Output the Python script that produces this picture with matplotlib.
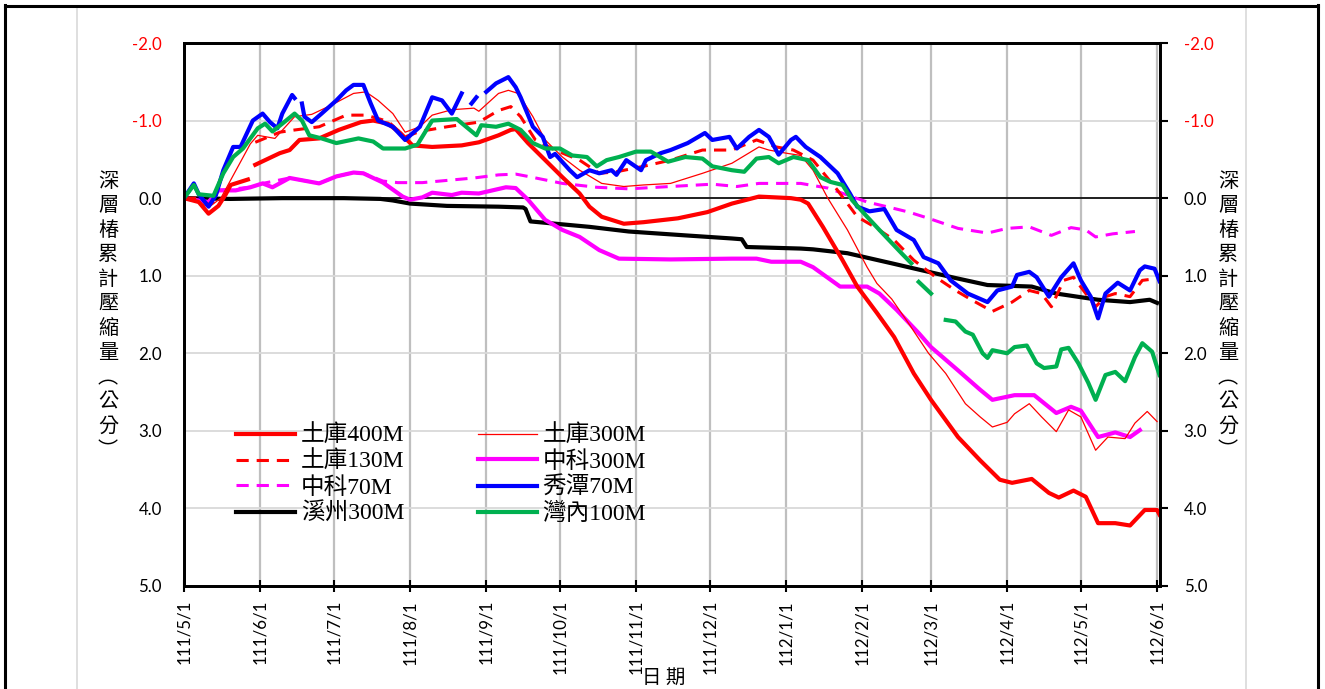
import numpy as np
import matplotlib
matplotlib.use("Agg")
import matplotlib.pyplot as plt
import matplotlib.dates as mdates
from matplotlib.lines import Line2D
from matplotlib.patches import Rectangle
import datetime as dt

nan = np.nan

# ---- 溪州300M ----
xz300_d = ["2022-05-01", "2022-05-20", "2022-06-10", "2022-07-05", "2022-07-20", "2022-07-25",
           "2022-08-01", "2022-08-16", "2022-09-06", "2022-09-16", "2022-09-17", "2022-09-19",
           "2022-10-13", "2022-10-29", "2022-11-21", "2022-12-10", "2022-12-14", "2022-12-16",
           "2023-01-07", "2023-01-12", "2023-01-26", "2023-02-13", "2023-02-28", "2023-03-11",
           "2023-03-24", "2023-04-11", "2023-04-21", "2023-05-08", "2023-05-21", "2023-05-29",
           "2023-06-01"]
xz300_v = [0.0, 0.01, 0.0, 0.0, 0.01, 0.03,
           0.07, 0.10, 0.11, 0.12, 0.14, 0.30,
           0.37, 0.43, 0.48, 0.52, 0.53, 0.63,
           0.65, 0.66, 0.71, 0.84, 0.95, 1.03,
           1.12, 1.14, 1.23, 1.31, 1.34, 1.31,
           1.35]

# ---- 土庫400M ----
tk400_d = ["2022-05-01", "2022-05-07", "2022-05-11", "2022-05-15", "2022-05-18", "2022-05-20",
           "2022-05-27", "2022-05-28", "2022-05-30", "2022-06-09", "2022-06-13", "2022-06-17",
           "2022-06-25", "2022-07-03", "2022-07-12", "2022-07-17", "2022-07-23", "2022-07-28",
           "2022-08-02", "2022-08-10", "2022-08-22", "2022-08-29", "2022-09-06", "2022-09-11",
           "2022-09-13", "2022-09-18", "2022-09-25", "2022-10-02", "2022-10-09", "2022-10-13",
           "2022-10-18", "2022-10-27", "2022-11-04", "2022-11-18", "2022-11-30", "2022-12-10",
           "2022-12-21", "2023-01-03", "2023-01-07", "2023-01-10", "2023-01-16", "2023-01-24",
           "2023-01-30", "2023-02-07", "2023-02-14", "2023-02-22", "2023-03-01", "2023-03-12",
           "2023-03-21", "2023-03-29", "2023-04-03", "2023-04-11", "2023-04-18", "2023-04-22",
           "2023-04-28", "2023-05-03", "2023-05-08", "2023-05-15", "2023-05-21", "2023-05-27",
           "2023-06-01", "2023-06-02"]
tk400_v = [0.0, 0.05, 0.20, 0.10, -0.05, -0.17,
           -0.24, nan, -0.43, -0.58, -0.62, -0.75,
           -0.77, -0.88, -0.98, -1.00, -0.96, -0.84,
           -0.68, -0.66, -0.68, -0.72, -0.81, -0.88,
           -0.89, -0.71, -0.49, -0.27, -0.06, 0.11,
           0.24, 0.33, 0.31, 0.26, 0.18, 0.07,
           -0.02, 0.0, 0.02, 0.07, 0.37, 0.80,
           1.14, 1.48, 1.79, 2.26, 2.60, 3.08,
           3.38, 3.63, 3.67, 3.62, 3.80, 3.86,
           3.77, 3.85, 4.19, 4.19, 4.22, 4.02,
           4.02, 4.08]

# ---- 土庫300M ----
tk300_d = ["2022-05-01", "2022-05-06", "2022-05-11", "2022-05-16", "2022-05-22", "2022-05-28",
           "2022-05-31", "2022-06-07", "2022-06-15", "2022-06-22", "2022-06-30", "2022-07-09",
           "2022-07-14", "2022-07-19", "2022-07-25", "2022-07-30", "2022-08-05", "2022-08-10",
           "2022-08-18", "2022-08-27", "2022-08-29", "2022-09-06", "2022-09-10", "2022-09-14",
           "2022-09-20", "2022-09-25", "2022-10-02", "2022-10-09", "2022-10-18", "2022-10-27",
           "2022-11-04", "2022-11-15", "2022-11-28", "2022-12-10", "2022-12-21", "2022-12-25",
           "2023-01-01", "2023-01-07", "2023-01-12", "2023-01-18", "2023-01-26", "2023-02-03",
           "2023-02-07", "2023-02-13", "2023-02-20", "2023-02-28", "2023-03-07", "2023-03-15",
           "2023-03-21", "2023-03-26", "2023-04-01", "2023-04-04", "2023-04-10", "2023-04-15",
           "2023-04-21", "2023-04-26", "2023-05-01", "2023-05-07", "2023-05-12", "2023-05-19",
           "2023-05-23", "2023-05-28", "2023-06-01"]
tk300_v = [0.0, 0.03, 0.12, 0.0, -0.35, -0.70,
           -0.81, -0.77, -1.05, -1.08, -1.20, -1.35,
           -1.37, -1.26, -1.09, -0.85, -0.92, -1.07,
           -1.14, -1.16, -1.12, -1.35, -1.39, -1.35,
           -1.05, -0.75, -0.53, -0.36, -0.19, -0.15,
           -0.17, -0.19, -0.32, -0.45, -0.66, -0.62,
           -0.58, -0.55, -0.36, 0.0, 0.41, 0.89,
           1.10, 1.30, 1.62, 2.00, 2.26, 2.65,
           2.82, 2.95, 2.89, 2.78, 2.65, 2.82,
           3.01, 2.73, 2.82, 3.25, 3.08, 3.10,
           2.90, 2.75, 2.88]

# ---- 土庫130M ----
tk130_d = ["2022-05-01", "2022-05-06", "2022-05-11", "2022-05-16", "2022-05-22", "2022-05-30",
           "2022-06-09", "2022-06-13", "2022-06-25", "2022-07-06", "2022-07-14", "2022-07-23",
           "2022-07-30", "2022-08-05", "2022-08-16", "2022-08-29", "2022-09-06", "2022-09-11",
           "2022-09-15", "2022-09-21", "2022-09-29", "2022-10-09", "2022-10-17", "2022-10-24",
           "2022-11-04", "2022-11-15", "2022-11-28", "2022-12-10", "2022-12-20", "2022-12-28",
           "2023-01-04", "2023-01-12", "2023-01-22", "2023-01-30", "2023-02-06", "2023-02-14",
           "2023-02-22", "2023-03-03", "2023-03-11", "2023-03-18", "2023-03-26", "2023-04-03",
           "2023-04-10", "2023-04-15", "2023-04-19", "2023-04-24", "2023-04-28", "2023-05-03",
           "2023-05-07", "2023-05-11", "2023-05-15", "2023-05-21", "2023-05-26", "2023-05-31"]
tk130_v = [0.0, 0.0, 0.08, 0.0, nan, -0.72,
           -0.85, -0.87, -0.92, -1.07, -1.07, -0.99,
           -0.79, -0.86, -0.92, -0.98, -1.13, -1.18,
           -1.05, -0.75, -0.62, -0.49, -0.32, -0.34,
           -0.41, -0.49, -0.62, -0.62, -0.75, -0.66,
           -0.62, -0.49, -0.10, 0.24, 0.37, 0.54,
           0.80, 1.02, 1.19, 1.32, 1.46, 1.34,
           1.19, 1.23, 1.40, 1.06, 1.02, 1.23,
           1.40, 1.27, 1.23, 1.27, 1.06, 1.04]

# ---- 中科300M ----
zk300_d = ["2022-05-01", "2022-05-07", "2022-05-11", "2022-05-15", "2022-05-22", "2022-05-28",
           "2022-06-02", "2022-06-06", "2022-06-13", "2022-06-25", "2022-07-02", "2022-07-09",
           "2022-07-13", "2022-07-21", "2022-07-29", "2022-08-01", "2022-08-06", "2022-08-10",
           "2022-08-18", "2022-08-22", "2022-08-29", "2022-09-09", "2022-09-13", "2022-09-18",
           "2022-09-25", "2022-10-02", "2022-10-09", "2022-10-17", "2022-10-25", "2022-11-15",
           "2022-12-10", "2022-12-20", "2022-12-26", "2023-01-07", "2023-01-12", "2023-01-23",
           "2023-02-03", "2023-02-08", "2023-02-15", "2023-02-24", "2023-03-01", "2023-03-12",
           "2023-03-21", "2023-03-26", "2023-04-04", "2023-04-12", "2023-04-21", "2023-04-27",
           "2023-05-01", "2023-05-08", "2023-05-15", "2023-05-21", "2023-05-25"]
zk300_v = [0.0, 0.03, 0.05, -0.10, -0.10, -0.14,
           -0.19, -0.14, -0.26, -0.19, -0.28, -0.33,
           -0.32, -0.20, -0.02, 0.02, -0.01, -0.07,
           -0.04, -0.07, -0.06, -0.14, -0.13, 0.02,
           0.28, 0.41, 0.50, 0.67, 0.78, 0.79,
           0.78, 0.78, 0.82, 0.82, 0.89, 1.14,
           1.14, 1.23, 1.44, 1.74, 1.92, 2.22,
           2.47, 2.60, 2.54, 2.54, 2.77, 2.69,
           2.74, 3.08, 3.02, 3.08, 2.99]

# ---- 中科70M ----
zk70_d = ["2022-05-01", "2022-05-11", "2022-05-15", "2022-05-28", "2022-06-02", "2022-06-13",
          "2022-06-25", "2022-07-02", "2022-07-09", "2022-07-13", "2022-07-21", "2022-07-27",
          "2022-08-06", "2022-08-27", "2022-09-06", "2022-09-13", "2022-09-18", "2022-10-02",
          "2022-10-16", "2022-10-29", "2022-11-15", "2022-12-02", "2022-12-12", "2022-12-21",
          "2023-01-07", "2023-01-18", "2023-01-26", "2023-02-03", "2023-02-11", "2023-02-20",
          "2023-02-28", "2023-03-12", "2023-03-24", "2023-04-01", "2023-04-10", "2023-04-19",
          "2023-04-27", "2023-05-03", "2023-05-07", "2023-05-14", "2023-05-23"]
zk70_v = [0.0, 0.05, -0.10, -0.14, -0.19, -0.26,
          -0.19, -0.28, -0.33, -0.32, -0.22, -0.20,
          -0.20, -0.26, -0.30, -0.31, -0.28, -0.19,
          -0.14, -0.12, -0.15, -0.18, -0.15, -0.19,
          -0.19, -0.13, -0.04, 0.05, 0.11, 0.18,
          0.26, 0.39, 0.45, 0.39, 0.37, 0.48,
          0.38, 0.41, 0.50, 0.46, 0.43]

# ---- 秀潭70M ----
xt70_d = ["2022-05-01", "2022-05-05", "2022-05-07", "2022-05-11", "2022-05-14", "2022-05-17",
          "2022-05-21", "2022-05-24", "2022-05-29", "2022-06-02", "2022-06-05", "2022-06-08",
          "2022-06-10", "2022-06-14", "2022-06-15", "2022-06-17", "2022-06-18", "2022-06-19",
          "2022-06-22", "2022-06-26", "2022-07-02", "2022-07-06", "2022-07-09", "2022-07-13",
          "2022-07-16", "2022-07-19", "2022-07-25", "2022-07-30", "2022-08-05", "2022-08-10",
          "2022-08-14", "2022-08-18", "2022-08-22", "2022-08-24", "2022-08-26", "2022-08-28",
          "2022-08-30", "2022-09-01", "2022-09-05", "2022-09-10", "2022-09-13", "2022-09-15",
          "2022-09-20", "2022-09-24", "2022-09-27", "2022-09-29", "2022-10-05", "2022-10-08",
          "2022-10-13", "2022-10-17", "2022-10-22", "2022-10-24", "2022-10-28", "2022-11-03",
          "2022-11-05", "2022-11-11", "2022-11-15", "2022-11-22", "2022-11-29", "2022-12-02",
          "2022-12-09", "2022-12-12", "2022-12-17", "2022-12-21", "2022-12-25", "2022-12-29",
          "2023-01-03", "2023-01-05", "2023-01-09", "2023-01-15", "2023-01-22", "2023-01-27",
          "2023-01-30", "2023-02-04", "2023-02-10", "2023-02-15", "2023-02-22", "2023-02-26",
          "2023-03-04", "2023-03-09", "2023-03-16", "2023-03-24", "2023-03-28", "2023-04-03",
          "2023-04-05", "2023-04-10", "2023-04-13", "2023-04-18", "2023-04-23", "2023-04-28",
          "2023-05-01", "2023-05-05", "2023-05-08", "2023-05-11", "2023-05-16", "2023-05-21",
          "2023-05-25", "2023-05-27", "2023-05-31", "2023-06-02"]
xt70_v = [0.0, -0.19, -0.05, 0.11, -0.04, -0.36,
          -0.66, -0.66, -1.00, -1.09, -0.98, -0.90,
          -1.09, -1.33, -1.29, nan, -1.22, -1.05,
          -0.98, -1.09, -1.26, -1.39, -1.46, -1.46,
          -1.22, -1.00, -0.92, -0.75, -0.92, -1.30,
          -1.26, -1.09, -1.35, nan, -1.22, -1.30,
          nan, -1.37, -1.48, -1.56, -1.43, -1.30,
          -0.92, -0.79, -0.53, -0.57, -0.36, -0.27,
          -0.36, -0.32, -0.36, -0.30, -0.49, -0.36,
          -0.49, -0.58, -0.62, -0.71, -0.84, -0.75,
          -0.79, -0.64, -0.79, -0.88, -0.79, -0.56,
          -0.75, -0.79, -0.66, -0.53, -0.32, -0.06,
          0.11, 0.17, 0.14, 0.41, 0.54, 0.76,
          0.84, 1.06, 1.23, 1.34, 1.19, 1.14,
          0.99, 0.95, 1.02, 1.27, 1.02, 0.84,
          1.06, 1.27, 1.55, 1.23, 1.09, 1.19,
          0.93, 0.88, 0.91, 1.07]

# ---- 灣內100M ----
wn100_d = ["2022-05-01", "2022-05-05", "2022-05-07", "2022-05-13", "2022-05-17", "2022-05-21",
           "2022-05-25", "2022-05-31", "2022-06-03", "2022-06-06", "2022-06-10", "2022-06-15",
           "2022-06-18", "2022-06-21", "2022-06-26", "2022-07-02", "2022-07-11", "2022-07-17",
           "2022-07-21", "2022-07-30", "2022-08-04", "2022-08-10", "2022-08-20", "2022-08-28",
           "2022-08-30", "2022-09-05", "2022-09-10", "2022-09-15", "2022-09-20", "2022-09-25",
           "2022-10-01", "2022-10-06", "2022-10-12", "2022-10-16", "2022-10-20", "2022-10-25",
           "2022-11-01", "2022-11-07", "2022-11-14", "2022-11-21", "2022-11-28", "2022-12-02",
           "2022-12-10", "2022-12-15", "2022-12-20", "2022-12-25", "2022-12-29", "2023-01-04",
           "2023-01-10", "2023-01-15", "2023-01-19", "2023-01-24", "2023-01-28", "2023-02-03",
           "2023-02-08", "2023-02-14", "2023-02-17", "2023-02-21", "2023-02-23", "2023-02-24",
           "2023-03-01", "2023-03-04", "2023-03-07", "2023-03-11", "2023-03-15", "2023-03-18",
           "2023-03-22", "2023-03-24", "2023-03-26", "2023-04-01", "2023-04-04", "2023-04-09",
           "2023-04-13", "2023-04-16", "2023-04-21", "2023-04-23", "2023-04-26", "2023-04-30",
           "2023-05-04", "2023-05-07", "2023-05-11", "2023-05-15", "2023-05-19", "2023-05-23",
           "2023-05-26", "2023-05-30", "2023-06-02"]
wn100_v = [0.0, -0.17, -0.05, -0.03, -0.32, -0.53,
           -0.64, -0.90, -0.96, -0.86, -0.96, -1.09,
           -1.00, -0.81, -0.77, -0.71, -0.77, -0.73,
           -0.64, -0.64, -0.69, -1.00, -1.02, -0.81,
           -0.94, -0.92, -0.96, -0.88, -0.71, -0.64,
           -0.64, -0.55, -0.53, -0.41, -0.49, -0.53,
           -0.60, -0.60, -0.47, -0.53, -0.51, -0.41,
           -0.36, -0.34, -0.51, -0.53, -0.45, -0.53,
           -0.49, -0.27, -0.21, -0.17, 0.03, 0.24,
           0.41, 0.61, 0.71, 0.84, nan, 1.08,
           1.23, nan, 1.57, 1.59, 1.72, 1.76,
           2.00, 2.06, 1.96, 2.00, 1.92, 1.90,
           2.13, 2.19, 2.17, 1.95, 1.93, 2.13,
           2.38, 2.60, 2.28, 2.24, 2.36, 2.05,
           1.87, 1.98, 2.28]

# Month ticks (Minguo calendar labels)
month_ticks = ["2022-05-01", "2022-06-01", "2022-07-01", "2022-08-01", "2022-09-01",
               "2022-10-01", "2022-11-01", "2022-12-01", "2023-01-01", "2023-02-01",
               "2023-03-01", "2023-04-01", "2023-05-01", "2023-06-01"]
y_ticks = [-2.0, -1.0, 0.0, 1.0, 2.0, 3.0, 4.0, 5.0]

RED = "#FF0000"
MAGENTA = "#FF00FF"
BLUE = "#0000FF"
GREEN = "#00B050"

NUM_FONT = "Lato"
CJK_SANS = ["Noto Sans CJK TC", "DejaVu Sans"]
SERIF_MIX = ["Liberation Serif", "Noto Sans CJK TC"]


def to_num(dates):
    return mdates.date2num([dt.datetime.strptime(s, "%Y-%m-%d") for s in dates])


def minguo(s):
    d = dt.datetime.strptime(s, "%Y-%m-%d")
    return f"{d.year - 1911}/{d.month}/{d.day}"


fig = plt.figure(figsize=(13.25, 6.89), dpi=100)
fig.patch.set_facecolor("white")

W, H = 1325.0, 689.0
left, right, top, bottom = 184, 1160, 43, 586
ax = fig.add_axes([left / W, 1 - bottom / H, (right - left) / W, (bottom - top) / H])

x0 = mdates.date2num(dt.datetime(2022, 5, 1))
x1 = mdates.date2num(dt.datetime(2023, 6, 1)) + 1.2
ax.set_xlim(x0, x1)
ax.set_ylim(5.0, -2.0)

tick_nums = to_num(month_ticks)
ax.set_xticks(tick_nums)
ax.set_xticklabels([minguo(s) for s in month_ticks], rotation=90,
                   fontfamily=NUM_FONT, fontsize=12.2)
ax.set_yticks(y_ticks)
ax.set_yticklabels([f"{v:.1f}" for v in y_ticks], fontfamily=NUM_FONT, fontsize=12.2)
for lab, v in zip(ax.get_yticklabels(), y_ticks):
    lab.set_color(RED if v < 0 else "black")

ax.grid(True, axis="x", color="#BFBFBF", lw=1.6, zorder=0)
ax.grid(True, axis="y", color="#D9D9D9", lw=1.3, zorder=0)
ax.set_axisbelow(True)
ax.axhline(0.0, color="black", lw=1.2, zorder=1)

ax.tick_params(axis="x", direction="inout", length=8, width=1.5, pad=6)
ax.tick_params(axis="y", length=0, pad=16)
for sp in ax.spines.values():
    sp.set_linewidth(2.0)
    sp.set_color("black")

# secondary y axis
ax2 = ax.twinx()
ax2.set_ylim(5.0, -2.0)
ax2.set_yticks(y_ticks)
ax2.set_yticklabels([f"{v:.1f}" for v in y_ticks], fontfamily=NUM_FONT, fontsize=12.2)
for lab, v in zip(ax2.get_yticklabels(), y_ticks):
    lab.set_color(RED if v < 0 else "black")
ax2.tick_params(axis="y", direction="out", length=6, width=1.5, pad=11)
for sp in ax2.spines.values():
    sp.set_linewidth(2.0)

thick = 3.0
dash = (0, (4.0, 2.6))

h_xz, = ax.plot(to_num(xz300_d), xz300_v, color="black", lw=thick, label="溪州300M", zorder=3)
h_400, = ax.plot(to_num(tk400_d), tk400_v, color=RED, lw=thick, label="土庫400M", zorder=4)
h_300, = ax.plot(to_num(tk300_d), tk300_v, color=RED, lw=0.9, label="土庫300M", zorder=4)
h_130, = ax.plot(to_num(tk130_d), tk130_v, color=RED, lw=2.2, ls=dash, label="土庫130M", zorder=4)
h_zk3, = ax.plot(to_num(zk300_d), zk300_v, color=MAGENTA, lw=thick, label="中科300M", zorder=3)
h_zk7, = ax.plot(to_num(zk70_d), zk70_v, color=MAGENTA, lw=2.2, ls=dash, label="中科70M", zorder=3)
h_xt, = ax.plot(to_num(xt70_d), xt70_v, color=BLUE, lw=thick, label="秀潭70M", zorder=5)
h_wn, = ax.plot(to_num(wn100_d), wn100_v, color=GREEN, lw=thick, label="灣內100M", zorder=6)

handles = [h_400, h_130, h_zk7, h_xz, h_300, h_zk3, h_xt, h_wn]
leg = ax.legend(handles=handles, ncol=2, loc="upper left",
                bbox_to_anchor=((236 - left) / (right - left), (bottom - 425) / (bottom - top)),
                frameon=False, prop={"family": SERIF_MIX, "size": 17},
                handlelength=2.5, handletextpad=0.25, columnspacing=3.1,
                labelspacing=0.17, borderpad=0.0, borderaxespad=0.0)

# axis titles (stacked vertical characters)
ytitle = "\n".join(list("深層椿累計壓縮量") + ["︵", "公", "分", "︶"])
cy = 1 - 316 / H
fig.text(108 / W, cy, ytitle, ha="center", va="center", fontsize=14.5,
         family=CJK_SANS, linespacing=1.22)
fig.text(1228 / W, cy, ytitle, ha="center", va="center", fontsize=14.5,
         family=CJK_SANS, linespacing=1.22)
fig.text(664 / W, 1 - 677 / H, "日 期", ha="center", va="center", fontsize=14,
         family=CJK_SANS)

# outer frames
fig.add_artist(Rectangle((77 / W, -0.01), (1246 - 77) / W, 1 - 7 / H + 0.01,
                         transform=fig.transFigure, fill=False,
                         edgecolor="#D9D9D9", lw=1.2))
fig.add_artist(Line2D([5 / W, 5 / W], [0, 1 - 5 / H], transform=fig.transFigure,
                      color="black", lw=2.2))
fig.add_artist(Line2D([1318 / W, 1318 / W], [0, 1 - 5 / H], transform=fig.transFigure,
                      color="black", lw=2.2))
fig.add_artist(Line2D([5 / W, 1318 / W], [1 - 6 / H, 1 - 6 / H], transform=fig.transFigure,
                      color="black", lw=2.2))

fig.savefig("out.png", dpi=100, facecolor="white")
